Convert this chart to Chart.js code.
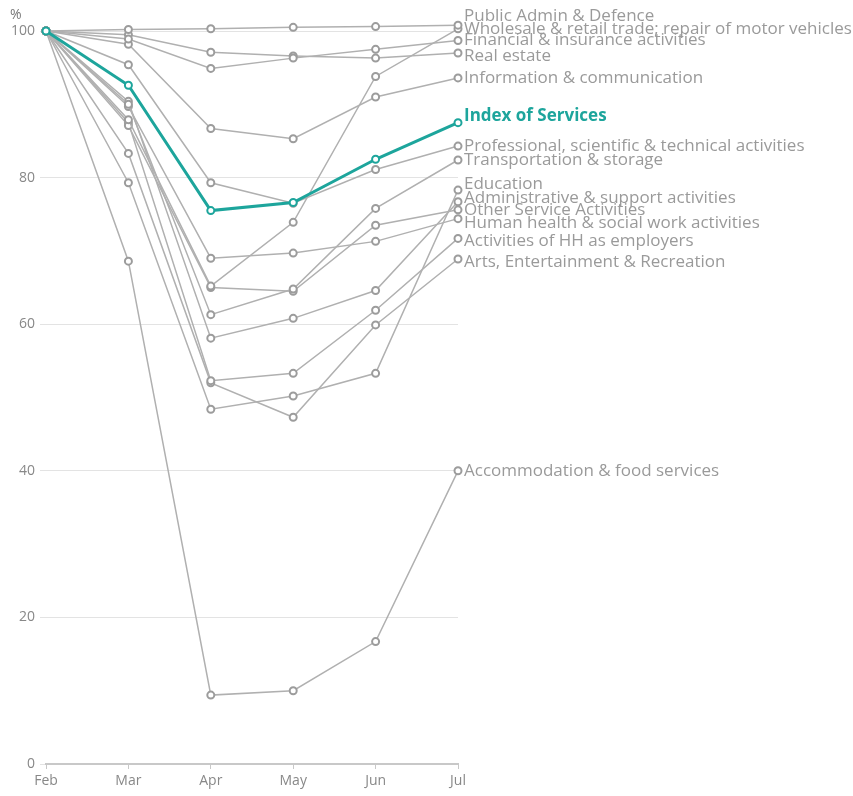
<!DOCTYPE html>
<html>
<head>
<meta charset="utf-8">
<script src="https://cdn.jsdelivr.net/npm/chart.js@4"></script>
<style>
  body { margin: 0; background: #fff; }
  #wrap { width: 853px; height: 796px; }
</style>
</head>
<body>
<div id="wrap"><canvas id="servicesChart" width="853" height="796"></canvas></div>
<script>
// Months and axis ticks
const months = ['Feb', 'Mar', 'Apr', 'May', 'Jun', 'Jul'];
const yTicks = [0, 20, 40, 60, 80, 100];

// Series values, % of February level
const publicAdmin = [100, 100.2, 100.3, 100.5, 100.6, 100.8];
const wholesale = [100, 87.9, 65.2, 73.9, 93.8, 100.3];
const financial = [100, 98.9, 94.9, 96.3, 97.5, 98.7];
const realEstate = [100, 99.5, 97.1, 96.6, 96.3, 97.0];
const information = [100, 98.2, 86.7, 85.3, 91.0, 93.6];
const indexOfServices = [100, 92.6, 75.5, 76.6, 82.5, 87.5];
const professional = [100, 95.4, 79.3, 76.5, 81.1, 84.3];
const transport = [100, 90.0, 61.3, 64.8, 75.8, 82.4];
const education = [100, 79.3, 48.4, 50.2, 53.3, 78.3];
const administrative = [100, 90.4, 58.1, 60.8, 64.6, 76.7];
const otherService = [100, 87.1, 65.0, 64.5, 73.5, 75.6];
const humanHealth = [100, 89.7, 69.0, 69.7, 71.3, 74.4];
const householdEmployers = [100, 87.5, 52.3, 53.3, 61.9, 71.7];
const arts = [100, 83.3, 52.0, 47.3, 59.9, 68.9];
const accommodation = [100, 68.6, 9.4, 10.0, 16.7, 40.0];

const seriesNames = [
  'Public Admin & Defence',
  'Wholesale & retail trade; repair of motor vehicles',
  'Financial & insurance activities',
  'Real estate',
  'Information & communication',
  'Index of Services',
  'Professional, scientific & technical activities',
  'Transportation & storage',
  'Education',
  'Administrative & support activities',
  'Other Service Activities',
  'Human health & social work activities',
  'Activities of HH as employers',
  'Arts, Entertainment & Recreation',
  'Accommodation & food services'
];
const seriesValues = [
  publicAdmin, wholesale, financial, realEstate, information, indexOfServices,
  professional, transport, education, administrative, otherService,
  humanHealth, householdEmployers, arts, accommodation
];

const TEAL = '#1da59c';
const GREY = '#b0b0b0';

// small vertical nudges for the end labels so they read like the original
const labelNudge = {
  'Public Admin & Defence': -9,
  'Real estate': 3,
  'Index of Services': -6,
  'Education': -6,
  'Administrative & support activities': -4,
  'Human health & social work activities': 5,
  'Activities of HH as employers': 3,
  'Arts, Entertainment & Recreation': 3
};

const datasets = seriesNames.map(function (name, i) {
  const isIndex = name === 'Index of Services';
  return {
    label: name,
    data: seriesValues[i],
    borderColor: isIndex ? TEAL : GREY,
    borderWidth: isIndex ? 3 : 1.5,
    pointRadius: 3.5,
    pointBorderWidth: 2,
    pointBackgroundColor: '#fff',
    pointBorderColor: isIndex ? TEAL : '#9c9c9c',
    tension: 0,
    clip: false,
    order: isIndex ? 0 : 1
  };
});

// Draw the series names at the end of each line, plus the % unit
const endLabels = {
  id: 'endLabels',
  afterDatasetsDraw(chart) {
    const ctx = chart.ctx;
    ctx.save();
    chart.data.datasets.forEach(function (ds, i) {
      const meta = chart.getDatasetMeta(i);
      const pt = meta.data[meta.data.length - 1];
      const isIndex = ds.label === 'Index of Services';
      ctx.font = (isIndex ? 'bold ' : '') + '17px "Open Sans"';
      ctx.fillStyle = isIndex ? TEAL : '#9a9a9a';
      ctx.textBaseline = 'middle';
      ctx.textAlign = 'left';
      ctx.fillText(ds.label, pt.x + 6, pt.y + (labelNudge[ds.label] || 0));
    });
    ctx.font = '14px "Open Sans"';
    ctx.fillStyle = '#777';
    ctx.fillText('%', 10, 15);
    ctx.restore();
  }
};

const config = {
  type: 'line',
  data: { labels: months, datasets: datasets },
  options: {
    responsive: false,
    animation: false,
    layout: { padding: { top: 31, right: 395, left: 0, bottom: 0 } },
    plugins: { legend: { display: false }, tooltip: { enabled: false } },
    scales: {
      x: {
        offset: false,
        grid: { drawOnChartArea: false, tickLength: 5, color: '#c8c8c8' },
        border: { color: '#c8c8c8', width: 2 },
        ticks: { color: '#888', font: { family: 'Open Sans', size: 14 }, padding: 4, maxRotation: 0 },
        afterFit(scale) { scale.height = 32; }
      },
      y: {
        min: 0,
        max: 100,
        afterBuildTicks(scale) { scale.ticks = yTicks.map(v => ({ value: v })); },
        grid: { color: '#e3e3e3', tickLength: 6 },
        border: { display: false },
        ticks: { color: '#888', font: { family: 'Open Sans', size: 14 }, padding: 5 },
        afterFit(scale) { scale.width = 46; }
      }
    }
  },
  plugins: [endLabels]
};

const servicesChart = new Chart(document.getElementById('servicesChart'), config);
</script>
</body>
</html>
